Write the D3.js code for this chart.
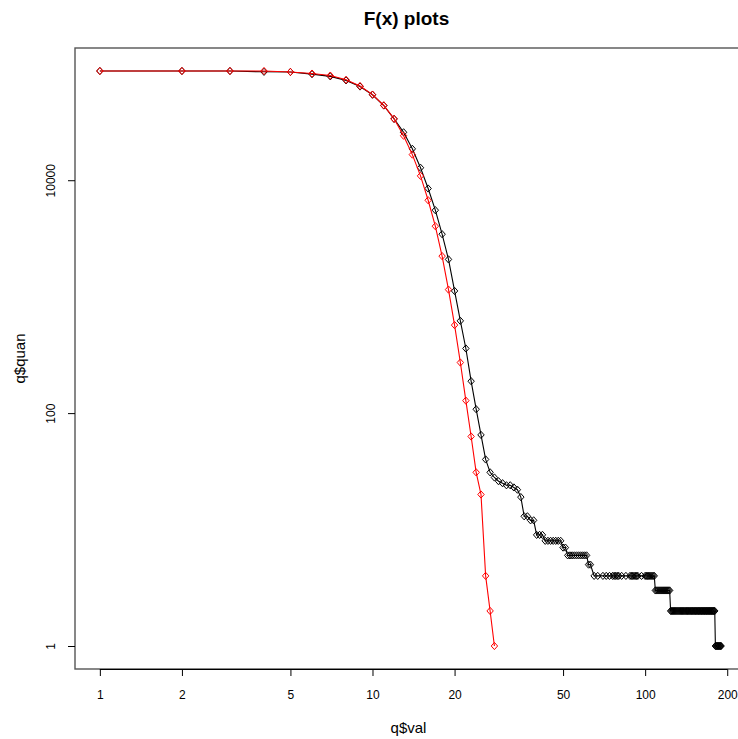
<!DOCTYPE html>
<html>
<head>
<meta charset="utf-8">
<script src="https://cdn.jsdelivr.net/npm/d3@7"></script>
<style>
  html, body { margin: 0; padding: 0; background: #fff; }
  svg { display: block; font-family: "Liberation Sans", Arial, sans-serif; }
</style>
</head>
<body>
<svg id="chart" width="738" height="739"></svg>
<script>
// Fitted model: value -> count of observations at or above it
const redVal = [1, 2, 3, 4, 5, 6, 7, 8, 9, 10, 11, 12, 13, 14, 15, 16, 17, 18, 19, 20,
                21, 22, 23, 24, 25, 26, 27, 28];
const redQuan = [86700, 86700, 86700, 86700, 85100, 82400, 79200, 72800, 64400, 54400,
                 44000, 33700, 24100, 16600, 10900, 6730, 4030, 2230, 1150, 570,
                 272, 128, 63, 31, 20, 4, 2, 1];

// Observed values (q$val) and their counts (q$quan)
const blackVal = [
  1, 2, 3, 4, 5, 6, 7, 8, 9, 10, 11, 12, 13, 14, 15, 16, 17, 18, 19, 20,
  21, 22, 23, 24, 25, 26, 27, 28, 29, 30, 31, 32, 33, 34, 35,
  36, 37, 38, 39, 40, 41, 42,
  43, 44, 45, 46, 47, 48, 49, 50, 51,
  52, 53, 54, 55, 56, 57, 58, 59, 60, 61, 62, 63,
  65, 67, 70, 72, 74, 76, 77, 78, 79, 80, 82, 85, 88, 89, 90, 91, 92, 93, 94,
  97, 100, 101, 102, 103, 104, 105, 106, 107, 108,
  109, 110, 111, 112, 113, 114, 115, 116, 117, 118, 119, 120, 121, 122, 123,
  124, 125, 126, 127, 128, 129, 130, 131, 132, 133, 134, 135, 136, 137, 138,
  139, 140, 141, 142, 143, 144, 145, 146, 147, 148, 149, 150, 151, 152, 153,
  154, 155, 156, 157, 158, 159, 160, 161, 162, 163, 164, 165, 166, 167, 168,
  169, 170, 171, 172, 173, 174, 175, 176, 177, 178, 179, 180,
  181, 182, 183, 184, 185, 186, 187, 188, 189, 190
];
const blackQuan = [
  86700, 86700, 86700, 85300, 85100, 81500, 78000, 72000, 63800, 54200,
  43800, 33600, 25800, 18600, 12800, 8490, 5530, 3440, 2090, 1120,
  620, 359, 188, 108, 65, 40, 31, 28, 26, 25, 24, 24, 23, 22, 19,
  13, 13, 12, 12, 9, 9, 9,
  8, 8, 8, 8, 8, 8, 8, 7, 7,
  6, 6, 6, 6, 6, 6, 6, 6, 6, 6, 5, 5,
  4, 4, 4, 4, 4, 4, 4, 4, 4, 4, 4, 4, 4, 4, 4, 4, 4, 4, 4,
  4, 4, 4, 4, 4, 4, 4, 4, 4, 4,
  3, 3, 3, 3, 3, 3, 3, 3, 3, 3, 3, 3, 3, 3, 3,
  2, 2, 2, 2, 2, 2, 2, 2, 2, 2, 2, 2, 2, 2, 2,
  2, 2, 2, 2, 2, 2, 2, 2, 2, 2, 2, 2, 2, 2, 2,
  2, 2, 2, 2, 2, 2, 2, 2, 2, 2, 2, 2, 2, 2, 2,
  2, 2, 2, 2, 2, 2, 2, 2, 2, 2, 2, 2,
  1, 1, 1, 1, 1, 1, 1, 1, 1, 1
];

const xTicks = [1, 2, 5, 10, 20, 50, 100, 200];
const yTicks = [1, 100, 10000];
const titleText = "F(x) plots";
const xLabel = "q$val";
const yLabel = "q$quan";

// Plot region (the right edge runs just past the page edge)
const plot = { left: 75, right: 746, top: 48, bottom: 669 };

// Log range padded by 4% on each side
function padLog(lo, hi) {
  const a = Math.log10(lo), b = Math.log10(hi), p = (b - a) * 0.04;
  return [Math.pow(10, a - p), Math.pow(10, b + p)];
}

const allX = blackVal.concat(redVal);
const allY = blackQuan.concat(redQuan);
const x = d3.scaleLog().domain(padLog(d3.min(allX), d3.max(allX))).range([plot.left, plot.right]);
const y = d3.scaleLog().domain(padLog(d3.min(allY), d3.max(allY))).range([plot.bottom, plot.top]);

const svg = d3.select("#chart");

// Frame
svg.append("rect")
  .attr("x", plot.left).attr("y", plot.top)
  .attr("width", plot.right - plot.left).attr("height", plot.bottom - plot.top)
  .attr("fill", "none").attr("stroke", "#555").attr("stroke-width", 1.4);

// Axes
const xAxis = d3.axisBottom(x).tickValues(xTicks).tickFormat(d3.format("d"))
  .tickSize(7).tickSizeOuter(0).tickPadding(14);
const gx = svg.append("g").attr("transform", `translate(0,${plot.bottom})`).call(xAxis);
gx.select(".domain").attr("d", `M${x(xTicks[0])},0.5H${x(xTicks[xTicks.length - 1])}`).attr("stroke", "#000");
gx.selectAll(".tick line").attr("stroke", "#000");
gx.selectAll(".tick text").attr("font-size", 12).attr("fill", "#000")
  .attr("font-family", "Liberation Sans, Arial, sans-serif");

const yAxis = d3.axisLeft(y).tickValues(yTicks).tickFormat(d3.format("d"))
  .tickSize(7).tickSizeOuter(0).tickPadding(0);
const gy = svg.append("g").attr("transform", `translate(${plot.left},0)`).call(yAxis);
gy.select(".domain").attr("stroke", "none");
gy.selectAll(".tick line").attr("stroke", "#000");
gy.selectAll(".tick text")
  .attr("font-size", 12).attr("fill", "#000")
  .attr("font-family", "Liberation Sans, Arial, sans-serif")
  .attr("x", null).attr("dy", null)
  .attr("text-anchor", "middle")
  .attr("transform", "translate(-20,0) rotate(-90)");

// Titles
svg.append("text")
  .attr("x", (plot.left + plot.right) / 2 - 4).attr("y", 25)
  .attr("text-anchor", "middle").attr("font-size", 19).attr("font-weight", "bold")
  .text(titleText);
svg.append("text")
  .attr("x", (plot.left + plot.right) / 2 - 2).attr("y", 733)
  .attr("text-anchor", "middle").attr("font-size", 15)
  .text(xLabel);
svg.append("text")
  .attr("transform", `translate(25,${(plot.top + plot.bottom) / 2}) rotate(-90)`)
  .attr("text-anchor", "middle").attr("font-size", 15)
  .text(yLabel);

// Series: line through open diamond markers
const diamond = "M0,-3.6L3.2,0L0,3.6L-3.2,0Z";
function drawSeries(vals, quans, color) {
  const pts = vals.map((v, i) => [v, quans[i]]);
  const g = svg.append("g");
  g.append("path")
    .datum(pts)
    .attr("fill", "none").attr("stroke", color).attr("stroke-width", 1.1)
    .attr("d", d3.line().x(d => x(d[0])).y(d => y(d[1])));
  g.selectAll("path.pt").data(pts).enter().append("path")
    .attr("class", "pt")
    .attr("d", diamond)
    .attr("transform", d => `translate(${x(d[0])},${y(d[1])})`)
    .attr("fill", "none").attr("stroke", color).attr("stroke-width", 1);
}

drawSeries(blackVal, blackQuan, "#000");
drawSeries(redVal, redQuan, "#ff0000");
</script>
</body>
</html>
